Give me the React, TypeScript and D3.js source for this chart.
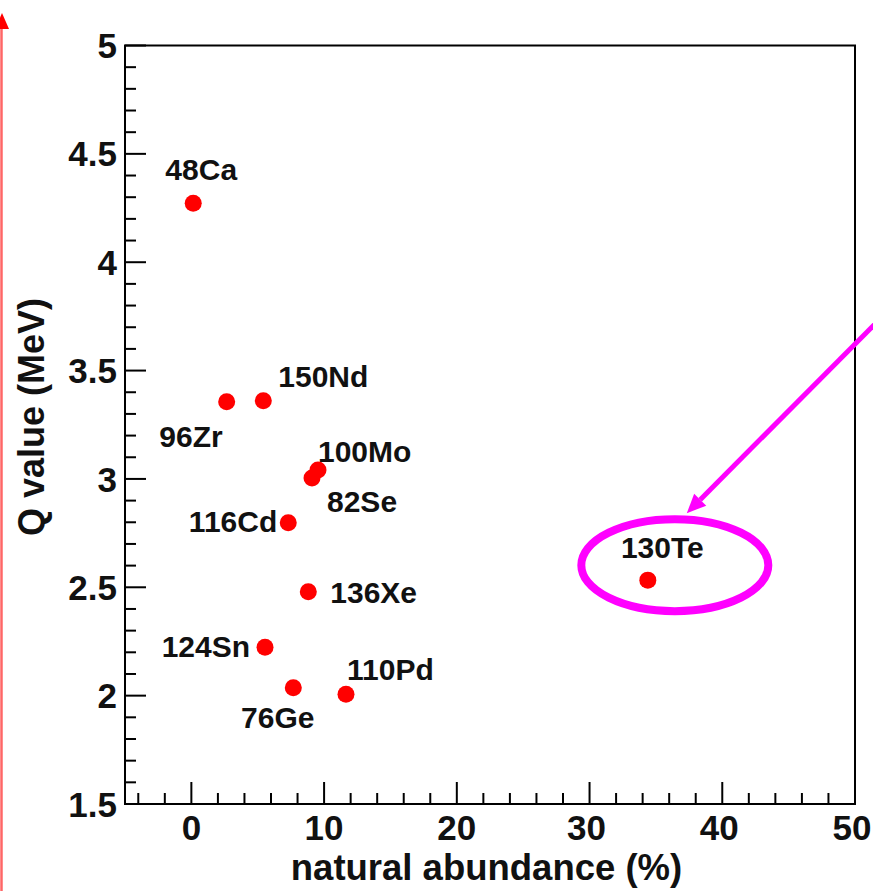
import React from "react";
import * as d3 from "d3";

const ISOTOPES = ["48Ca", "96Zr", "150Nd", "100Mo", "82Se", "116Cd", "136Xe", "124Sn", "76Ge", "110Pd", "130Te"];
const ABUNDANCE = [0.14, 2.66, 5.42, 9.54, 9.09, 7.3, 8.81, 5.55, 7.68, 11.65, 34.39];
const Q_VALUE = [4.272, 3.356, 3.361, 3.041, 3.004, 2.798, 2.479, 2.223, 2.036, 2.006, 2.533];

const X_TICKS = [0, 10, 20, 30, 40, 50];
const X_TICK_LABELS = ["0", "10", "20", "30", "40", "50"];
const Y_TICKS = [1.5, 2, 2.5, 3, 3.5, 4, 4.5, 5];
const Y_TICK_LABELS = ["1.5", "2", "2.5", "3", "3.5", "4", "4.5", "5"];

const X_TITLE = "natural abundance (%)";
const Y_TITLE = "Q value (MeV)";
const HIGHLIGHT = "130Te";

// label placement (layout only): anchor, dx, dy relative to the point
const LABEL_LAYOUT: [string, number, number][] = [
  ["middle", 8, -23],
  ["end", -4, 45],
  ["start", 15, -14],
  ["start", 0, -8],
  ["start", 15, 34],
  ["end", -11, 9],
  ["start", 22, 11],
  ["end", -15, 10],
  ["middle", -15.5, 40],
  ["start", 1, -14],
  ["middle", 14.5, -22],
];

const W = 873;
const H = 891;
const L = 125, R = 855, T = 45.5, B = 804;
const FONT = "'Liberation Sans', Arial, Helvetica, sans-serif";

export default function App() {
  const x = d3.scaleLinear().domain([-5, 50]).range([L, R]);
  const y = d3.scaleLinear().domain([1.5, 5]).range([B, T]);

  const xMinor = d3.range(-4, 50, 2).filter((v) => v % 10 !== 0);
  const yMinor = d3.range(15, 50, 1).map((v) => v / 10).filter((v) => Math.round(v * 10) % 5 !== 0);

  const hi = ISOTOPES.indexOf(HIGHLIGHT);
  const hx = x(ABUNDANCE[hi]);
  const hy = y(Q_VALUE[hi]);
  const ecx = hx + 27, ecy = hy - 15;
  const tipX = hx + 39, tipY = hy - 67;
  const ang = Math.atan2(tipY - 317, tipX - 882);
  const ah = 19, aw = 8.5;
  const bx = tipX - ah * Math.cos(ang), by = tipY - ah * Math.sin(ang);
  const px = -Math.sin(ang), py = Math.cos(ang);

  return (
    <svg width={W} height={H} style={{ position: "absolute", left: 0, top: 0, background: "#fff" }} fontFamily={FONT}>
      <rect x={0} y={0} width={W} height={H} fill="#fff" />
      {/* red arrow at left edge */}
      <line x1={1.5} y1={26} x2={1.5} y2={H} stroke="#ff6666" strokeWidth={2.5} />
      <polygon points="2,13 -5,29 9,29" fill="#ff0000" />

      {/* frame */}
      <rect x={L} y={T} width={R - L} height={B - T} fill="none" stroke="#000" strokeWidth={2} />

      {/* y ticks */}
      {Y_TICKS.map((v) => (
        <line key={"ym" + v} x1={L} x2={L + 21} y1={y(v)} y2={y(v)} stroke="#000" strokeWidth={2} />
      ))}
      {yMinor.map((v) => (
        <line key={"yn" + v} x1={L} x2={L + 11} y1={y(v)} y2={y(v)} stroke="#000" strokeWidth={2} />
      ))}
      {Y_TICKS.map((v, i) => (
        <text key={"yl" + v} x={L - 8} y={y(v)} dy="0.36em" textAnchor="end" fontSize={35} fontWeight="bold" fill="#111">
          {Y_TICK_LABELS[i]}
        </text>
      ))}

      {/* x ticks */}
      {X_TICKS.map((v) => (
        <line key={"xm" + v} x1={x(v)} x2={x(v)} y1={B} y2={B - 22} stroke="#000" strokeWidth={2} />
      ))}
      {xMinor.map((v) => (
        <line key={"xn" + v} x1={x(v)} x2={x(v)} y1={B} y2={B - 11} stroke="#000" strokeWidth={2} />
      ))}
      {X_TICKS.map((v, i) => (
        <text key={"xl" + v} x={x(v) - (i > 2 ? 3 : 0)} y={840} textAnchor="middle" fontSize={35} fontWeight="bold" fill="#111">
          {X_TICK_LABELS[i]}
        </text>
      ))}

      {/* axis titles */}
      <text x={486.5} y={880} textAnchor="middle" fontSize={36.5} fontWeight="bold" fill="#111">
        {X_TITLE}
      </text>
      <text transform="translate(44,417) rotate(-90)" textAnchor="middle" fontSize={36} fontWeight="bold" fill="#111">
        {Y_TITLE}
      </text>

      {/* points */}
      {ISOTOPES.map((name, i) => (
        <circle key={"p" + name} cx={x(ABUNDANCE[i])} cy={y(Q_VALUE[i])} r={8.5} fill="#ff0000" />
      ))}
      {ISOTOPES.map((name, i) => {
        const [anchor, dx, dy] = LABEL_LAYOUT[i];
        return (
          <text key={"t" + name} x={x(ABUNDANCE[i]) + dx} y={y(Q_VALUE[i]) + dy} textAnchor={anchor as any} fontSize={30} fontWeight="bold" fill="#111">
            {name}
          </text>
        );
      })}

      {/* highlight annotation */}
      <ellipse cx={ecx} cy={ecy} rx={93.5} ry={46} fill="none" stroke="#ff00ff" strokeWidth={8} />
      <line x1={882} y1={317} x2={bx} y2={by} stroke="#ff00ff" strokeWidth={5} />
      <polygon
        points={`${tipX},${tipY} ${bx + px * aw},${by + py * aw} ${bx - px * aw},${by - py * aw}`}
        fill="#ff00ff"
      />
    </svg>
  );
}
